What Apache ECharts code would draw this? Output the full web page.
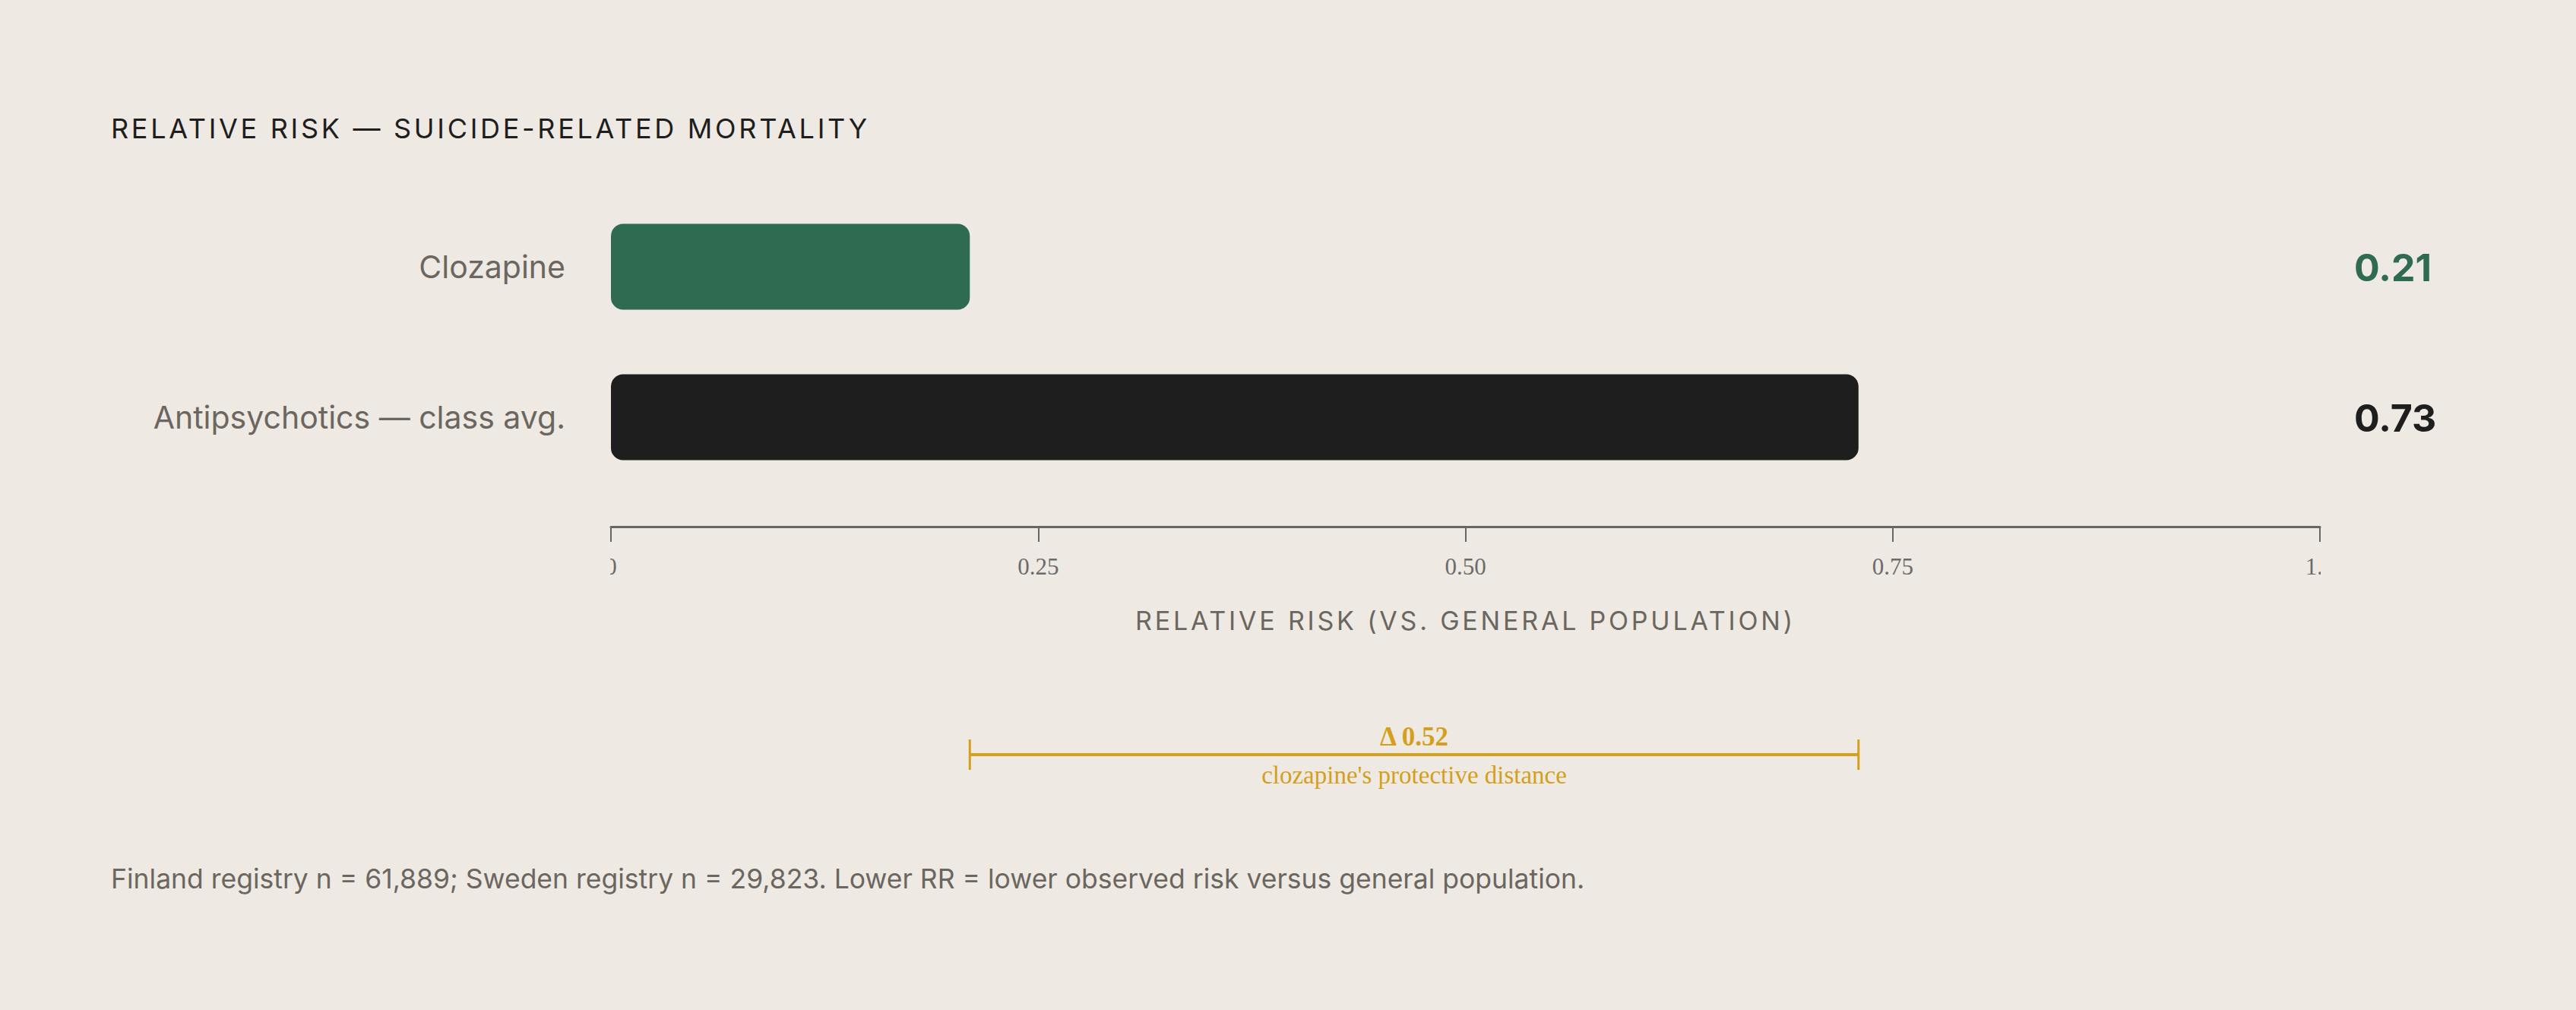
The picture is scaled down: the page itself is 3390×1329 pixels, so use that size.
<!DOCTYPE html>
<html>
<head>
<meta charset="utf-8">
<script src="https://cdn.jsdelivr.net/npm/echarts@6/dist/echarts.min.js"></script>
<style>
  html, body { margin: 0; padding: 0; background: #eeeae3; }
  #chart { width: 3390px; height: 1329px; }
  #chart [style*="36px"] { letter-spacing: 3.7px; }
  #chart [style*="34px"] { letter-spacing: 3.8px; }
</style>
</head>
<body>
<div id="chart"></div>
<script>
const categories = ['Clozapine', 'Antipsychotics — class avg.'];
const rrValues = [0.21, 0.73];
const barColors = ['#2e6b51', '#1e1e1e'];
const xTickValues = [0, 0.25, 0.5, 0.75, 1];
const xTickLabels = ['0', '0.25', '0.50', '0.75', '1.0'];
const titleText = 'RELATIVE RISK — SUICIDE-RELATED MORTALITY';
const axisTitle = 'RELATIVE RISK (VS. GENERAL POPULATION)';
const footnote = 'Finland registry n = 61,889; Sweden registry n = 29,823. Lower RR = lower observed risk versus general population.';
const deltaCaption = "clozapine's protective distance";

const BG = '#eeeae3';
const GOLD = '#d4a01c';
const GRAY = '#6b6660';
const SANS = 'Inter';
const SERIF = 'Liberation Serif';

const chart = echarts.init(document.getElementById('chart'), null, { renderer: 'svg' });

const gridLeft = 804, gridRight = 337;

const option = {
  backgroundColor: BG,
  animation: false,
  textStyle: { fontFamily: SANS },
  title: [
    {
      text: titleText, left: 141, top: 146,
      textStyle: { fontFamily: SANS, fontSize: 36, lineHeight: 36, fontWeight: 'normal', color: '#1e1e1e' }
    },
    {
      text: footnote, left: 141, top: 1133,
      textStyle: { fontFamily: SANS, fontSize: 35.5, lineHeight: 36, fontWeight: 'normal', color: GRAY }
    }
  ],
  grid: [
    { left: gridLeft, right: gridRight, top: 252, height: 396 },
    { left: gridLeft, right: gridRight, top: 953, height: 80 }
  ],
  xAxis: [
    {
      type: 'value', gridIndex: 0, min: 0, max: 1, interval: 0.25,
      position: 'bottom', offset: 45,
      axisLine: { show: true, lineStyle: { color: '#666', width: 3 } },
      axisTick: { show: true, length: 20, lineStyle: { color: '#666', width: 2 } },
      splitLine: { show: false },
      axisLabel: {
        margin: 37, fontFamily: SERIF, fontSize: 31, color: '#6b6b6b',
        formatter: v => { const i = xTickValues.indexOf(v); return i >= 0 ? xTickLabels[i] : ''; }
      },
      name: axisTitle, nameLocation: 'middle', nameGap: 106,
      nameTextStyle: { fontFamily: SANS, fontSize: 34, color: GRAY }
    },
    { type: 'value', gridIndex: 1, min: 0, max: 1, show: false }
  ],
  yAxis: [
    {
      type: 'category', gridIndex: 0, data: categories, inverse: true,
      axisLine: { show: false }, axisTick: { show: false }, splitLine: { show: false },
      axisLabel: { margin: 60, fontFamily: SANS, fontSize: 41, color: GRAY }
    },
    {
      type: 'category', gridIndex: 0, data: categories, inverse: true, position: 'right',
      axisLine: { show: false }, axisTick: { show: false }, splitLine: { show: false },
      axisLabel: {
        margin: 45, align: 'left',
        formatter: (val, idx) => '{v' + idx + '|' + rrValues[idx].toFixed(2) + '}',
        rich: {
          v0: { fontFamily: SANS, fontSize: 50, fontWeight: 'bold', color: barColors[0], padding: [2, 0, 0, 0] },
          v1: { fontFamily: SANS, fontSize: 50, fontWeight: 'bold', color: barColors[1], padding: [2, 0, 0, 0] }
        }
      }
    },
    { type: 'value', gridIndex: 1, min: -1, max: 1, show: false }
  ],
  series: [
    {
      type: 'bar', xAxisIndex: 0, yAxisIndex: 0, barWidth: 113,
      data: rrValues.map((v, i) => ({ value: v, itemStyle: { color: barColors[i], borderRadius: 16 } })),
      label: { show: false }
    },
    {
      type: 'custom', xAxisIndex: 1, yAxisIndex: 2,
      data: [[rrValues[0], rrValues[1], +(rrValues[1] - rrValues[0]).toFixed(2)]],
      renderItem: (params, api) => {
        const s = api.coord([api.value(0), 0]);
        const e = api.coord([api.value(1), 0]);
        const y = s[1];
        const mid = (s[0] + e[0]) / 2;
        return {
          type: 'group',
          children: [
            { type: 'line', shape: { x1: s[0], y1: y, x2: e[0], y2: y }, style: { stroke: GOLD, lineWidth: 4 } },
            { type: 'line', shape: { x1: s[0], y1: y - 20, x2: s[0], y2: y + 20 }, style: { stroke: GOLD, lineWidth: 3 } },
            { type: 'line', shape: { x1: e[0], y1: y - 20, x2: e[0], y2: y + 20 }, style: { stroke: GOLD, lineWidth: 3 } },
            { type: 'text', x: mid, y: y - 6, style: { text: 'Δ ' + api.value(2).toFixed(2), fill: GOLD, fontFamily: SERIF, fontWeight: 'bold', fontSize: 35, align: 'center', verticalAlign: 'bottom' } },
            { type: 'text', x: mid, y: y + 10, style: { text: deltaCaption, fill: GOLD, fontFamily: SERIF, fontSize: 33, align: 'center', verticalAlign: 'top' } }
          ]
        };
      }
    }
  ]
};

chart.setOption(option);

// clip tick labels at the plot edges, as in the reference
const x0 = chart.convertToPixel({ xAxisIndex: 0 }, 0);
const x1 = chart.convertToPixel({ xAxisIndex: 0 }, 1);
chart.setOption({
  graphic: [
    { type: 'rect', z: 100, shape: { x: x0 - 120, y: 718, width: 119, height: 50 }, style: { fill: BG } },
    { type: 'rect', z: 100, shape: { x: x1 + 1, y: 718, width: 40, height: 50 }, style: { fill: BG } }
  ]
});
</script>
</body>
</html>
